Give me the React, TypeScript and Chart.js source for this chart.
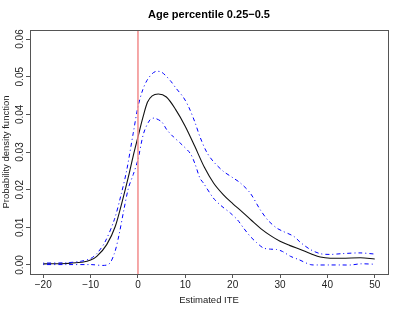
import React, { useEffect, useRef } from "react";
import { Chart, registerables } from "chart.js";

Chart.register(...registerables);

const titleText = "Age percentile 0.25\u22120.5";
const xTitle = "Estimated ITE";
const yTitle = "Probability density function";

const xTicks = [-20, -10, 0, 10, 20, 30, 40, 50];
const yTicks = [0, 0.01, 0.02, 0.03, 0.04, 0.05, 0.06];
const yTickLabels = ["0.00", "0.01", "0.02", "0.03", "0.04", "0.05", "0.06"];

const estX = [-20, -15, -12, -10, -8.7, -6.6, -4.8, -3.4, -2, -1, 0, 1, 2, 3, 4.3, 6, 8, 10, 12, 14, 16, 18, 20, 22, 24, 26, 28, 30, 32, 34.3, 36.5, 38.5, 40.6, 43, 47, 50];
const estY = [0.0003, 0.0004, 0.0007, 0.0013, 0.0023, 0.0054, 0.0102, 0.0165, 0.0235, 0.029, 0.034, 0.039, 0.0432, 0.0449, 0.0454, 0.0446, 0.0412, 0.0368, 0.0315, 0.026, 0.0217, 0.0187, 0.0163, 0.0141, 0.0118, 0.0096, 0.0078, 0.0063, 0.0052, 0.0041, 0.003, 0.0021, 0.0018, 0.0018, 0.0019, 0.0016];

const upX = [-20, -15, -12, -10, -8.7, -7, -5, -3.5, -2.4, -1, 0, 1, 1.9, 3, 3.8, 5, 6.8, 8, 9.6, 10.7, 12, 13.1, 14.5, 15.9, 18, 20, 21.6, 23.7, 25.8, 27.5, 29.3, 30.5, 32.9, 34.3, 36.4, 38.5, 40.6, 43, 46.9, 50];
const upY = [0.0005, 0.0006, 0.001, 0.0017, 0.003, 0.006, 0.012, 0.019, 0.025, 0.035, 0.042, 0.0465, 0.049, 0.0508, 0.0514, 0.0512, 0.049, 0.047, 0.0445, 0.042, 0.038, 0.034, 0.030, 0.0275, 0.0249, 0.0232, 0.0218, 0.0191, 0.0147, 0.0118, 0.0098, 0.009, 0.0076, 0.006, 0.0041, 0.003, 0.0028, 0.003, 0.0032, 0.0029];

const loX = [-20, -15, -10, -6.3, -5, -4, -3, -2, -1, 0, 1.2, 2.5, 3.4, 5, 6.1, 7.5, 8.9, 11, 12, 13.1, 13.8, 15.9, 17.5, 19.5, 21, 22.3, 23.7, 25, 26.5, 28, 29.3, 30.5, 32.2, 34, 36.4, 38, 40.6, 43, 45, 47, 50];
const loY = [0.0001, 0.0001, 0.0001, 0.0001, 0.003, 0.008, 0.0145, 0.0205, 0.024, 0.028, 0.035, 0.0385, 0.039, 0.038, 0.0359, 0.034, 0.0324, 0.0297, 0.027, 0.023, 0.0218, 0.0178, 0.0158, 0.0138, 0.012, 0.0098, 0.0076, 0.006, 0.0045, 0.0042, 0.0041, 0.0036, 0.0023, 0.0014, 0.0001, 0, 0, 0, 0, 0.0003, 0.0002];

const FONT = "'Liberation Sans', Arial, Helvetica, sans-serif";

const toPts = (xs: number[], ys: number[]) => xs.map((x, i) => ({ x, y: ys[i] }));

const decorPlugin = {
  id: "decor",
  afterDatasetsDraw(chart: any) {
    const { ctx, chartArea: a, scales } = chart;
    const xs = scales.x;
    ctx.save();
    const x0 = xs.getPixelForValue(0);
    ctx.strokeStyle = "#f28b8b";
    ctx.lineWidth = 1.5;
    ctx.beginPath();
    ctx.moveTo(x0, a.top);
    ctx.lineTo(x0, a.bottom);
    ctx.stroke();
    ctx.strokeStyle = "#555";
    ctx.lineWidth = 1;
    ctx.strokeRect(Math.round(a.left) + 0.5, Math.round(a.top) + 0.5, Math.round(a.right - a.left), Math.round(a.bottom - a.top));
    ctx.restore();
  },
  afterDraw(chart: any) {
    const { ctx, chartArea: a, scales } = chart;
    const ys = scales.y;
    ctx.save();
    ctx.fillStyle = "#222";
    ctx.textAlign = "center";
    ctx.textBaseline = "middle";
    ctx.font = `10px ${FONT}`;
    yTicks.forEach((v, i) => {
      const y = ys.getPixelForValue(v);
      ctx.save();
      ctx.translate(20, y);
      ctx.rotate(-Math.PI / 2);
      ctx.fillText(yTickLabels[i], 0, 0);
      ctx.restore();
    });
    ctx.font = `9.5px ${FONT}`;
    ctx.save();
    ctx.translate(6, (a.top + a.bottom) / 2);
    ctx.rotate(-Math.PI / 2);
    ctx.fillText(yTitle, 0, 0);
    ctx.restore();
    ctx.fillText(xTitle, (a.left + a.right) / 2, 300);
    ctx.fillStyle = "#000";
    ctx.font = `bold 11px ${FONT}`;
    ctx.fillText(titleText, (a.left + a.right) / 2, 15);
    ctx.restore();
  },
};

export default function App() {
  const ref = useRef<HTMLCanvasElement>(null);
  useEffect(() => {
    document.body.style.margin = "0";
    const canvas = ref.current!;
    const chart = new Chart(canvas, {
      type: "line",
      data: {
        datasets: [
          {
            data: toPts(upX, upY),
            borderColor: "rgb(0,0,255)",
            borderWidth: 1,
            borderDash: [1, 3, 4, 3],
            pointRadius: 0,
            tension: 0.3,
            fill: false,
          },
          {
            data: toPts(loX, loY),
            borderColor: "rgb(0,0,255)",
            borderWidth: 1,
            borderDash: [1, 3, 4, 3],
            pointRadius: 0,
            tension: 0.3,
            fill: false,
          },
          {
            data: toPts(estX, estY),
            borderColor: "#111",
            borderWidth: 1.1,
            pointRadius: 0,
            cubicInterpolationMode: "monotone",
            fill: false,
          },
        ],
      },
      options: {
        animation: false,
        responsive: false,
        maintainAspectRatio: false,
        parsing: false as any,
        layout: { padding: { top: 30, right: 15, left: 0, bottom: 0 } },
        plugins: { legend: { display: false }, tooltip: { enabled: false }, title: { display: false } },
        scales: {
          x: {
            type: "linear",
            min: -22.8,
            max: 52.8,
            afterBuildTicks: (s: any) => {
              s.ticks = xTicks.map((v) => ({ value: v }));
            },
            afterFit: (s: any) => {
              s.height = 38;
            },
            grid: { drawOnChartArea: false, drawTicks: true, tickLength: 4, color: "#555" },
            border: { display: false },
            ticks: {
              font: { size: 10, family: FONT },
              color: "#222",
              padding: 1,
              maxRotation: 0,
              autoSkip: false,
              callback: (v: any) => String(v).replace("-", "\u2212"),
            },
          },
          y: {
            type: "linear",
            min: -0.0024,
            max: 0.0624,
            afterBuildTicks: (s: any) => {
              s.ticks = yTicks.map((v) => ({ value: v }));
            },
            afterFit: (s: any) => {
              s.width = 30;
            },
            grid: { drawOnChartArea: false, drawTicks: true, tickLength: 4, color: "#555" },
            border: { display: false },
            ticks: { display: true, callback: () => "", padding: 0 },
          },
        },
      } as any,
      plugins: [decorPlugin],
    });
    return () => chart.destroy();
  }, []);
  return (
    <div style={{ position: "absolute", left: 0, top: 0, width: 403, height: 312, background: "#fff" }}>
      <canvas ref={ref} width={403} height={312} style={{ width: 403, height: 312 }} />
    </div>
  );
}
